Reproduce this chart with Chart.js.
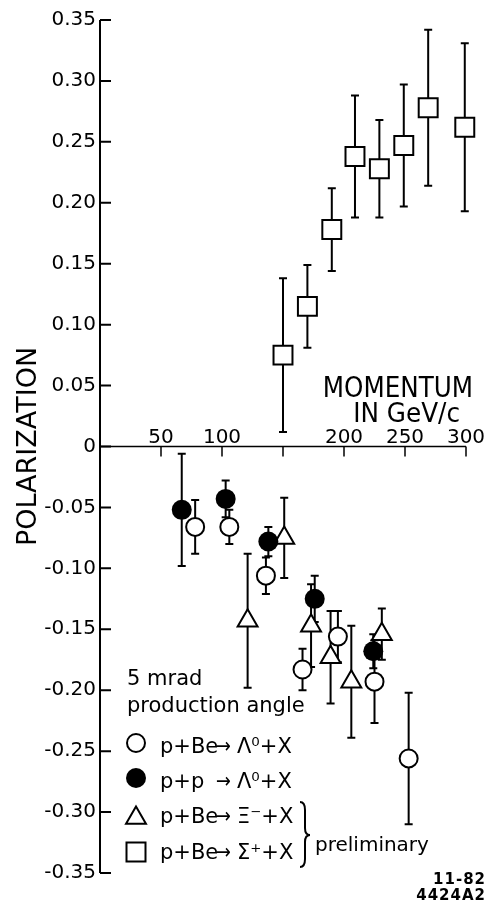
<!DOCTYPE html>
<html>
<head>
<meta charset="utf-8">
<title>Polarization vs momentum</title>
<script src="https://cdn.jsdelivr.net/npm/chart.js@4.4.1/dist/chart.umd.min.js"></script>
<style>
  html, body { margin: 0; padding: 0; background: #fff; }
  canvas { display: block; }
</style>
</head>
<body>
<canvas id="polChart" width="488" height="903"></canvas>
<script>
// p+Be -> Lambda0 + X  (open circles)
const beLambdaMomentum = [78, 106, 136, 166, 195, 225, 253];
const beLambdaPol = [-0.066, -0.066, -0.106, -0.183, -0.156, -0.193, -0.256];
const beLambdaErr = [0.022, 0.014, 0.015, 0.017, 0.021, 0.034, 0.054];

// p+p -> Lambda0 + X  (filled circles)
const ppLambdaMomentum = [67, 103, 138, 176, 224];
const ppLambdaPol = [-0.052, -0.043, -0.078, -0.125, -0.168];
const ppLambdaErr = [0.046, 0.015, 0.012, 0.019, 0.014];

// p+Be -> Xi- + X  (triangles, preliminary)
const xiMomentum = [121, 151, 173, 189, 206, 231];
const xiPol = [-0.143, -0.075, -0.147, -0.173, -0.193, -0.154];
const xiErr = [0.055, 0.033, 0.034, 0.038, 0.046, 0.021];

// p+Be -> Sigma+ + X  (squares, preliminary)
const sigmaMomentum = [150, 170, 190, 209, 229, 249, 269, 299];
const sigmaPol = [0.075, 0.115, 0.178, 0.238, 0.228, 0.247, 0.278, 0.262];
const sigmaErr = [0.063, 0.034, 0.034, 0.050, 0.040, 0.050, 0.064, 0.069];

const xTickValues = [50, 100, 150, 200, 250, 300];
const xTickLabels = ['50', '100', '', '200', '250', '300'];

const FONT = 'DejaVu Sans';
const INK = '#000';

function toPoints(xs, ys) {
    return xs.map((x, i) => ({ x: x, y: ys[i] }));
}

// small helper for plain canvas text, with optional horizontal squeeze
function drawText(ctx, text, x, y, size, align, sx, weight) {
    ctx.save();
    ctx.font = (weight || 'normal') + ' ' + size + 'px "' + FONT + '"';
    ctx.fillStyle = INK;
    ctx.textAlign = align || 'left';
    ctx.textBaseline = 'alphabetic';
    ctx.translate(x, y);
    ctx.scale(sx || 1, 1);
    ctx.fillText(text, 0, 0);
    ctx.restore();
}

function legendSymbol(ctx, kind, cx, cy) {
    ctx.save();
    ctx.lineWidth = 2;
    ctx.strokeStyle = INK;
    ctx.fillStyle = '#fff';
    ctx.beginPath();
    if (kind === 'open') {
        ctx.arc(cx, cy, 9, 0, Math.PI * 2);
        ctx.fill(); ctx.stroke();
    } else if (kind === 'filled') {
        ctx.arc(cx, cy, 10, 0, Math.PI * 2);
        ctx.fillStyle = INK;
        ctx.fill();
    } else if (kind === 'triangle') {
        const r = 11.5;
        ctx.moveTo(cx, cy - r);
        ctx.lineTo(cx + r * Math.sin(Math.PI * 2 / 3), cy - r * Math.cos(Math.PI * 2 / 3));
        ctx.lineTo(cx + r * Math.sin(Math.PI * 4 / 3), cy - r * Math.cos(Math.PI * 4 / 3));
        ctx.closePath();
        ctx.fill(); ctx.stroke();
    } else {
        ctx.rect(cx - 9.5, cy - 9.5, 19, 19);
        ctx.fill(); ctx.stroke();
    }
    ctx.restore();
}

const paperPlugin = {
    id: 'paperStyle',
    // error bars go under the markers
    beforeDatasetsDraw(chart) {
        const ctx = chart.ctx;
        const xs = chart.scales.x;
        const ys = chart.scales.y;
        ctx.save();
        ctx.strokeStyle = INK;
        ctx.lineWidth = 2;
        chart.data.datasets.forEach(ds => {
            ds.data.forEach((p, i) => {
                const err = ds.errors[i];
                const px = xs.getPixelForValue(p.x);
                const top = ys.getPixelForValue(p.y + err);
                const bot = ys.getPixelForValue(p.y - err);
                ctx.beginPath();
                ctx.moveTo(px, top); ctx.lineTo(px, bot);
                ctx.moveTo(px - 4, top); ctx.lineTo(px + 4, top);
                ctx.moveTo(px - 4, bot); ctx.lineTo(px + 4, bot);
                ctx.stroke();
            });
        });
        ctx.restore();
    },
    afterDraw(chart) {
        const ctx = chart.ctx;
        const xs = chart.scales.x;
        const ys = chart.scales.y;
        const area = chart.chartArea;
        const x0 = xs.getPixelForValue(0);
        const y0 = ys.getPixelForValue(0);

        ctx.save();
        ctx.strokeStyle = INK;
        ctx.lineCap = 'butt';

        // vertical axis with inward ticks
        ctx.lineWidth = 2;
        ctx.beginPath();
        ctx.moveTo(x0, area.top);
        ctx.lineTo(x0, area.bottom);
        ys.ticks.forEach(t => {
            const py = ys.getPixelForValue(t.value);
            ctx.moveTo(x0, py);
            ctx.lineTo(x0 + 11, py);
        });
        ctx.stroke();

        // momentum axis across the zero line, ticks hanging down
        ctx.lineWidth = 1.5;
        ctx.beginPath();
        ctx.moveTo(x0, y0);
        ctx.lineTo(xs.getPixelForValue(300), y0);
        xTickValues.forEach(v => {
            const px = xs.getPixelForValue(v);
            ctx.moveTo(px, y0);
            ctx.lineTo(px, y0 + 10);
        });
        ctx.stroke();
        ctx.restore();

        xTickValues.forEach((v, i) => {
            drawText(ctx, xTickLabels[i], xs.getPixelForValue(v), y0 - 4, 20, 'center');
        });

        drawText(ctx, 'MOMENTUM', 473, 397, 28, 'right', 0.88);
        drawText(ctx, 'IN GeV/c', 460, 422, 26, 'right', 0.95);

        // legend block
        drawText(ctx, '5 mrad', 127, 685, 21, 'left');
        drawText(ctx, 'production angle', 127, 712, 21, 'left');

        const rows = [
            { kind: 'open', y: 743, base: 753, pre: 'p+Be', post: 'Λ⁰+X' },
            { kind: 'filled', y: 778, base: 788, pre: 'p+p', post: 'Λ⁰+X' },
            { kind: 'triangle', y: 818, base: 823, pre: 'p+Be', post: 'Ξ⁻+X' },
            { kind: 'square', y: 852, base: 859, pre: 'p+Be', post: 'Σ⁺+X' }
        ];
        rows.forEach(r => {
            legendSymbol(ctx, r.kind, 136, r.y);
            drawText(ctx, r.pre, 160, r.base, 21, 'left');
            drawText(ctx, '→', 216, r.base, 21, 'left', 0.85);
            drawText(ctx, r.post, 237, r.base, 21, 'left');
        });

        // brace grouping the preliminary rows
        ctx.save();
        ctx.strokeStyle = INK;
        ctx.lineWidth = 2;
        ctx.beginPath();
        ctx.moveTo(300, 802);
        ctx.quadraticCurveTo(305, 802, 305, 810);
        ctx.lineTo(305, 828);
        ctx.quadraticCurveTo(305, 835, 310, 835);
        ctx.quadraticCurveTo(305, 835, 305, 842);
        ctx.lineTo(305, 859);
        ctx.quadraticCurveTo(305, 867, 300, 867);
        ctx.stroke();
        ctx.restore();
        drawText(ctx, 'preliminary', 315, 851, 20, 'left');

        // figure stamp
        ctx.save();
        if ('letterSpacing' in ctx) ctx.letterSpacing = '1px';
        ctx.font = 'bold 15px "' + FONT + '"';
        ctx.fillStyle = INK;
        ctx.textAlign = 'right';
        ctx.fillText('11-82', 486, 884);
        ctx.fillText('4424A2', 486, 900);
        ctx.restore();
    }
};

Chart.defaults.font.family = FONT;
Chart.defaults.color = INK;

const ctx = document.getElementById('polChart').getContext('2d');

window.polChart = new Chart(ctx, {
    type: 'scatter',
    data: {
        datasets: [
            {
                label: 'p+Be → Λ0+X',
                data: toPoints(beLambdaMomentum, beLambdaPol),
                errors: beLambdaErr,
                pointStyle: 'circle',
                pointRadius: 9,
                pointBackgroundColor: '#fff',
                pointBorderColor: INK,
                pointBorderWidth: 2,
                clip: false
            },
            {
                label: 'p+p → Λ0+X',
                data: toPoints(ppLambdaMomentum, ppLambdaPol),
                errors: ppLambdaErr,
                pointStyle: 'circle',
                pointRadius: 10,
                pointBackgroundColor: INK,
                pointBorderColor: INK,
                pointBorderWidth: 0,
                clip: false
            },
            {
                label: 'p+Be → Ξ-+X',
                data: toPoints(xiMomentum, xiPol),
                errors: xiErr,
                pointStyle: 'triangle',
                pointRadius: 11.5,
                pointBackgroundColor: '#fff',
                pointBorderColor: INK,
                pointBorderWidth: 2,
                clip: false
            },
            {
                label: 'p+Be → Σ++X',
                data: toPoints(sigmaMomentum, sigmaPol),
                errors: sigmaErr,
                pointStyle: 'rect',
                pointRadius: 13.4,
                pointBackgroundColor: '#fff',
                pointBorderColor: INK,
                pointBorderWidth: 2,
                clip: false
            }
        ]
    },
    options: {
        responsive: false,
        animation: false,
        devicePixelRatio: 1,
        events: [],
        layout: {
            padding: { top: 20, bottom: 30, left: 0, right: 22 }
        },
        plugins: {
            legend: { display: false },
            tooltip: { enabled: false }
        },
        scales: {
            x: {
                type: 'linear',
                display: false,
                min: 0,
                max: 300
            },
            y: {
                type: 'linear',
                min: -0.35,
                max: 0.35,
                afterFit: scale => { scale.width = 100; },
                grid: { display: false, drawTicks: false },
                border: { display: false },
                ticks: {
                    stepSize: 0.05,
                    autoSkip: false,
                    padding: 4,
                    color: INK,
                    font: { size: 20 },
                    callback: v => Math.abs(v) < 1e-9 ? '0' : v.toFixed(2)
                },
                title: {
                    display: true,
                    text: 'POLARIZATION',
                    color: INK,
                    font: { size: 27 },
                    padding: { top: 13, bottom: 0 }
                }
            }
        }
    },
    plugins: [paperPlugin]
});
</script>
</body>
</html>
